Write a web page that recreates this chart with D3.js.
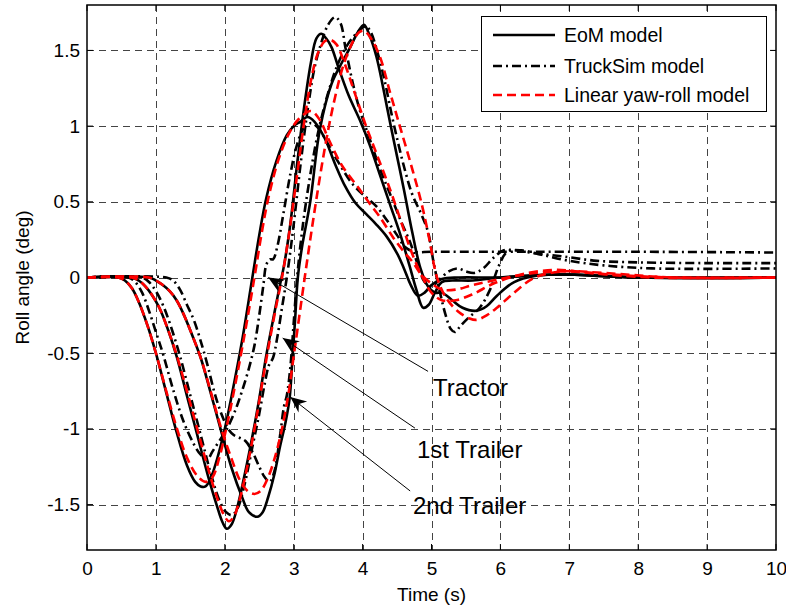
<!DOCTYPE html>
<html>
<head>
<meta charset="utf-8">
<script src="https://cdn.jsdelivr.net/npm/d3@7"></script>
<style>
  html, body { margin: 0; padding: 0; background: #fff; }
  svg { display: block; }
  text { font-family: "Liberation Sans", Arial, Helvetica, sans-serif; fill: #000; }
</style>
</head>
<body>
<svg id="chart" width="786" height="609"></svg>
<script>
// ---------------- DATA ----------------
const xTicks = [0, 1, 2, 3, 4, 5, 6, 7, 8, 9, 10];
const yTicks = [-1.5, -1, -0.5, 0, 0.5, 1, 1.5];
const xLabel = "Time (s)";
const yLabel = "Roll angle (deg)";
const legendLabels = ["EoM model", "TruckSim model", "Linear yaw-roll model"];

// [time (s), roll angle (deg)]
const tractorEoM = [[0,0],[0.45,0],[0.55,-0.02],[0.65,-0.07],[0.75,-0.16],[0.88,-0.32],[1.0,-0.5],[1.15,-0.76],[1.3,-1.02],[1.45,-1.24],[1.57,-1.35],[1.65,-1.38],[1.72,-1.38],[1.8,-1.32],[1.9,-1.18],[2.0,-1.0],[2.1,-0.78],[2.25,-0.42],[2.4,0.0],[2.5,0.28],[2.6,0.52],[2.75,0.77],[2.9,0.94],[3.0,1.0],[3.1,1.03],[3.2,1.06],[3.3,1.03],[3.45,0.92],[3.6,0.75],[3.75,0.6],[3.9,0.49],[4.05,0.42],[4.2,0.35],[4.35,0.27],[4.5,0.16],[4.6,0.06],[4.7,-0.05],[4.8,-0.12],[4.9,-0.1],[5.0,-0.05],[5.15,-0.01],[5.4,0.0],[6.0,0.0],[6.8,0.02],[8,0.0],[10,0.0]];
const firstTrailerEoM = [[0,0],[0.65,0],[0.75,-0.02],[0.85,-0.06],[0.95,-0.12],[1.05,-0.2],[1.18,-0.35],[1.3,-0.52],[1.45,-0.78],[1.6,-1.04],[1.75,-1.3],[1.88,-1.5],[1.97,-1.62],[2.03,-1.66],[2.1,-1.63],[2.18,-1.52],[2.28,-1.32],[2.4,-1.05],[2.5,-0.8],[2.6,-0.52],[2.7,-0.28],[2.8,-0.05],[2.86,0.08],[2.95,0.35],[3.05,0.75],[3.15,1.12],[3.25,1.42],[3.33,1.58],[3.4,1.61],[3.47,1.58],[3.55,1.52],[3.64,1.4],[3.8,1.2],[3.96,1.04],[4.1,0.88],[4.25,0.68],[4.4,0.48],[4.55,0.28],[4.68,0.08],[4.78,-0.08],[4.88,-0.2],[4.96,-0.18],[5.05,-0.1],[5.15,-0.03],[5.3,-0.02],[5.6,-0.02],[6.0,0.0],[6.8,0.02],[8,0],[10,0]];
const secondTrailerEoM = [[0,0],[0.9,0],[1.0,-0.02],[1.1,-0.05],[1.2,-0.09],[1.3,-0.15],[1.4,-0.24],[1.5,-0.35],[1.65,-0.53],[1.8,-0.77],[1.95,-1.02],[2.1,-1.26],[2.25,-1.45],[2.35,-1.55],[2.47,-1.58],[2.55,-1.55],[2.63,-1.45],[2.72,-1.3],[2.8,-1.12],[2.88,-0.96],[2.94,-0.8],[2.98,-0.55],[3.02,-0.28],[3.06,0.0],[3.12,0.2],[3.24,0.5],[3.38,0.98],[3.55,1.28],[3.7,1.42],[3.82,1.52],[3.93,1.62],[4.02,1.67],[4.1,1.6],[4.2,1.46],[4.3,1.25],[4.4,1.02],[4.5,0.8],[4.6,0.58],[4.72,0.3],[4.84,0.06],[4.95,-0.06],[5.05,-0.1],[5.15,-0.1],[5.3,-0.15],[5.45,-0.2],[5.65,-0.22],[5.8,-0.19],[5.95,-0.12],[6.2,-0.03],[6.5,0.01],[7.0,0.02],[8,0.0],[10,0]];

const tractorTruckSim = [[0,0],[0.6,0],[0.7,-0.03],[0.8,-0.1],[0.9,-0.22],[1.0,-0.36],[1.1,-0.5],[1.25,-0.74],[1.4,-0.95],[1.55,-1.1],[1.65,-1.17],[1.75,-1.2],[1.82,-1.15],[1.92,-1.08],[2.03,-1.0],[2.15,-0.88],[2.25,-0.75],[2.35,-0.6],[2.43,-0.45],[2.5,-0.25],[2.56,-0.05],[2.6,0.08],[2.65,0.12],[2.7,0.12],[2.76,0.2],[2.85,0.42],[2.95,0.68],[3.05,0.88],[3.15,0.99],[3.25,1.02],[3.35,0.99],[3.5,0.88],[3.65,0.76],[3.85,0.62],[4.05,0.53],[4.2,0.47],[4.35,0.38],[4.5,0.28],[4.62,0.2],[4.75,0.17],[5.0,0.17],[6,0.17],[8,0.17],[10,0.165]];
const firstTrailerTruckSim = [[0,0],[0.8,0],[0.9,-0.03],[1.0,-0.09],[1.1,-0.18],[1.2,-0.3],[1.35,-0.52],[1.5,-0.78],[1.65,-1.04],[1.8,-1.3],[1.92,-1.47],[2.02,-1.55],[2.1,-1.57],[2.18,-1.53],[2.28,-1.38],[2.4,-1.12],[2.5,-0.9],[2.58,-0.7],[2.64,-0.58],[2.7,-0.53],[2.76,-0.4],[2.83,-0.2],[2.9,0.0],[3.0,0.35],[3.1,0.75],[3.2,1.1],[3.3,1.38],[3.4,1.55],[3.5,1.67],[3.6,1.72],[3.68,1.68],[3.75,1.52],[3.85,1.3],[3.95,1.12],[4.1,0.92],[4.25,0.72],[4.4,0.55],[4.55,0.38],[4.7,0.22],[4.82,0.06],[4.9,-0.03],[5.0,-0.06],[5.1,-0.02],[5.25,0.04],[5.38,0.06],[5.5,0.04],[5.62,0.03],[5.75,0.06],[5.9,0.13],[6.05,0.18],[6.2,0.18],[6.5,0.16],[6.9,0.14],[7.4,0.11],[8,0.1],[9,0.095],[10,0.095]];
const secondTrailerTruckSim = [[0,0],[1.15,0],[1.25,-0.02],[1.35,-0.08],[1.45,-0.18],[1.55,-0.28],[1.65,-0.42],[1.75,-0.58],[1.85,-0.76],[1.95,-0.9],[2.05,-1.0],[2.13,-1.04],[2.22,-1.06],[2.3,-1.08],[2.4,-1.15],[2.5,-1.25],[2.58,-1.32],[2.65,-1.35],[2.72,-1.28],[2.8,-1.05],[2.86,-0.85],[2.9,-0.78],[2.95,-0.6],[3.0,-0.3],[3.05,0.0],[3.12,0.3],[3.22,0.62],[3.35,0.95],[3.5,1.22],[3.65,1.42],[3.8,1.55],[3.95,1.63],[4.05,1.66],[4.12,1.62],[4.22,1.48],[4.32,1.3],[4.42,1.08],[4.52,0.88],[4.62,0.7],[4.72,0.55],[4.85,0.42],[4.95,0.3],[5.03,0.1],[5.1,-0.05],[5.2,-0.24],[5.28,-0.34],[5.34,-0.36],[5.42,-0.32],[5.55,-0.26],[5.7,-0.2],[5.85,-0.08],[5.98,0.08],[6.1,0.17],[6.3,0.18],[6.6,0.15],[7.0,0.11],[7.5,0.08],[8.2,0.06],[10,0.06]];

const tractorLinear = [[0,0],[0.45,0],[0.55,-0.02],[0.65,-0.07],[0.75,-0.16],[0.88,-0.32],[1.0,-0.5],[1.15,-0.75],[1.3,-0.99],[1.45,-1.19],[1.6,-1.31],[1.72,-1.35],[1.82,-1.32],[1.92,-1.19],[2.02,-1.0],[2.12,-0.78],[2.27,-0.42],[2.43,0.0],[2.53,0.28],[2.63,0.52],[2.78,0.78],[2.93,0.95],[3.08,1.05],[3.25,1.1],[3.38,1.04],[3.5,0.92],[3.7,0.74],[3.96,0.58],[4.1,0.49],[4.25,0.40],[4.45,0.26],[4.6,0.17],[4.73,0.1],[4.85,0.02],[5.0,-0.04],[5.15,-0.08],[5.35,-0.08],[5.6,-0.05],[6.0,-0.01],[6.5,0.03],[7.0,0.04],[7.6,0.02],[8.5,0.0],[10,0.0]];
const firstTrailerLinear = [[0,0],[0.65,0],[0.75,-0.02],[0.85,-0.06],[0.95,-0.12],[1.05,-0.2],[1.18,-0.35],[1.3,-0.51],[1.45,-0.75],[1.6,-1.0],[1.75,-1.25],[1.9,-1.47],[2.0,-1.58],[2.06,-1.61],[2.13,-1.58],[2.22,-1.46],[2.33,-1.24],[2.45,-0.95],[2.55,-0.68],[2.65,-0.42],[2.75,-0.18],[2.83,0.0],[2.93,0.28],[3.05,0.68],[3.15,1.02],[3.25,1.3],[3.35,1.48],[3.45,1.56],[3.53,1.57],[3.62,1.54],[3.75,1.4],[3.9,1.2],[4.05,1.0],[4.2,0.82],[4.4,0.58],[4.55,0.38],[4.7,0.18],[4.85,0.02],[5.0,-0.1],[5.15,-0.15],[5.35,-0.15],[5.6,-0.11],[5.9,-0.04],[6.3,0.02],[6.8,0.05],[7.3,0.03],[8.2,0.0],[10,0]];
const secondTrailerLinear = [[0,0],[0.9,0],[1.0,-0.02],[1.1,-0.05],[1.2,-0.09],[1.3,-0.15],[1.4,-0.24],[1.5,-0.35],[1.65,-0.53],[1.8,-0.76],[1.95,-1.0],[2.1,-1.2],[2.22,-1.34],[2.33,-1.41],[2.43,-1.43],[2.52,-1.41],[2.62,-1.33],[2.72,-1.2],[2.82,-1.02],[2.92,-0.78],[3.0,-0.52],[3.08,-0.26],[3.16,0.0],[3.24,0.25],[3.33,0.52],[3.45,0.85],[3.58,1.15],[3.72,1.4],[3.85,1.55],[3.95,1.62],[4.02,1.63],[4.12,1.58],[4.25,1.46],[4.4,1.22],[4.54,1.0],[4.7,0.75],[4.85,0.5],[4.97,0.25],[5.08,0.0],[5.22,-0.14],[5.4,-0.23],[5.55,-0.27],[5.65,-0.28],[5.8,-0.25],[5.95,-0.2],[6.2,-0.1],[6.5,0.0],[6.9,0.04],[7.5,0.03],[8.5,0.0],[10,0]];

// annotations: label, arrow tip [t, deg], arrow tail [t, deg], text anchor [t, deg]
const annotLabels = ["Tractor", "1st Trailer", "2nd Trailer"];
const annotTips   = [[2.63, 0.0], [2.84, -0.40], [2.95, -0.79]];
const annotTails  = [[4.95, -0.62], [4.76, -0.995], [4.69, -1.41]];
const annotText   = [[5.02, -0.78], [4.79, -1.19], [4.73, -1.56]];

// ---------------- CHART ----------------
const W = 786, H = 609;
const m = {left: 87, right: 10, top: 5, bottom: 59};
const svg = d3.select("#chart");

const x = d3.scaleLinear().domain([0, 10]).range([m.left, W - m.right]);
const y = d3.scaleLinear().domain([-1.8, 1.8]).range([H - m.bottom, m.top]);

// plot background
svg.append("rect").attr("x", x(0)).attr("y", y(1.8))
  .attr("width", x(10) - x(0)).attr("height", y(-1.8) - y(1.8)).attr("fill", "#fff");

// grid
const grid = svg.append("g").attr("stroke", "#444").attr("stroke-width", 1).attr("stroke-dasharray", "7,5");
grid.selectAll("line.gx").data(xTicks.filter(d => d > 0 && d < 10)).join("line")
  .attr("x1", d => Math.round(x(d)) + 0.5).attr("x2", d => Math.round(x(d)) + 0.5)
  .attr("y1", y(1.8)).attr("y2", y(-1.8));
grid.selectAll("line.gy").data(yTicks).join("line")
  .attr("y1", d => Math.round(y(d)) + 0.5).attr("y2", d => Math.round(y(d)) + 0.5)
  .attr("x1", x(0)).attr("x2", x(10));

// axes
const xAxis = d3.axisBottom(x).tickValues(xTicks).tickSize(0).tickPadding(12).tickFormat(d3.format("d"));
const yAxis = d3.axisLeft(y).tickValues(yTicks).tickSize(0).tickPadding(7).tickFormat(d => String(d));
const gx = svg.append("g").attr("transform", `translate(0,${y(-1.8)})`).call(xAxis);
const gy = svg.append("g").attr("transform", `translate(${x(0)},0)`).call(yAxis);
[gx, gy].forEach(g => {
  g.select(".domain").remove();
  g.selectAll("text").style("font-size", "19px").attr("fill", "#000");
});

// inward ticks
const tickLen = 6;
const tk = svg.append("g").attr("stroke", "#000").attr("stroke-width", 1);
xTicks.forEach(d => {
  tk.append("line").attr("x1", x(d)).attr("x2", x(d)).attr("y1", y(-1.8)).attr("y2", y(-1.8) - tickLen);
  tk.append("line").attr("x1", x(d)).attr("x2", x(d)).attr("y1", y(1.8)).attr("y2", y(1.8) + tickLen);
});
yTicks.forEach(d => {
  tk.append("line").attr("y1", y(d)).attr("y2", y(d)).attr("x1", x(0)).attr("x2", x(0) + tickLen);
  tk.append("line").attr("y1", y(d)).attr("y2", y(d)).attr("x1", x(10)).attr("x2", x(10) - tickLen);
});

// clip
svg.append("clipPath").attr("id", "clip").append("rect")
  .attr("x", x(0)).attr("y", y(1.8)).attr("width", x(10) - x(0)).attr("height", y(-1.8) - y(1.8));

const line = d3.line().x(d => x(d[0])).y(d => y(d[1])).curve(d3.curveCatmullRom.alpha(0.5));

const styles = {
  eom:   {stroke: "#000", dash: null},
  truck: {stroke: "#000", dash: "9,4,2,4"},
  lin:   {stroke: "#ff0000", dash: "9,5"}
};
const series = [
  {data: tractorEoM, s: styles.eom}, {data: firstTrailerEoM, s: styles.eom}, {data: secondTrailerEoM, s: styles.eom},
  {data: tractorTruckSim, s: styles.truck}, {data: firstTrailerTruckSim, s: styles.truck}, {data: secondTrailerTruckSim, s: styles.truck},
  {data: tractorLinear, s: styles.lin}, {data: firstTrailerLinear, s: styles.lin}, {data: secondTrailerLinear, s: styles.lin}
];
const plot = svg.append("g").attr("clip-path", "url(#clip)");
series.forEach(sr => {
  plot.append("path").attr("d", line(sr.data)).attr("fill", "none")
    .attr("stroke", sr.s.stroke).attr("stroke-width", 2.6)
    .attr("stroke-dasharray", sr.s.dash).attr("stroke-linejoin", "round");
});

// annotations
const ann = svg.append("g");
annotLabels.forEach((lab, i) => {
  const [tx, ty] = [x(annotTips[i][0]), y(annotTips[i][1])];
  const [sx, sy] = [x(annotTails[i][0]), y(annotTails[i][1])];
  ann.append("line").attr("x1", sx).attr("y1", sy).attr("x2", tx).attr("y2", ty)
    .attr("stroke", "#000").attr("stroke-width", 1);
  const ang = Math.atan2(ty - sy, tx - sx);
  const L = 16, Wd = 7, back = 11;
  const ux = Math.cos(ang), uy = Math.sin(ang);
  const px = -uy, py = ux;
  const p1 = [tx - ux * L + px * Wd, ty - uy * L + py * Wd];
  const p2 = [tx - ux * back, ty - uy * back];
  const p3 = [tx - ux * L - px * Wd, ty - uy * L - py * Wd];
  ann.append("path").attr("d", `M${tx},${ty}L${p1[0]},${p1[1]}L${p2[0]},${p2[1]}L${p3[0]},${p3[1]}Z`).attr("fill", "#000");
  ann.append("text").attr("x", x(annotText[i][0])).attr("y", y(annotText[i][1]))
    .style("font-size", "24px").text(lab);
});

// axes box
svg.append("rect").attr("x", x(0)).attr("y", y(1.8))
  .attr("width", x(10) - x(0)).attr("height", y(-1.8) - y(1.8))
  .attr("fill", "none").attr("stroke", "#000").attr("stroke-width", 1.5);

// axis labels
svg.append("text").attr("x", (x(0) + x(10)) / 2).attr("y", 601).attr("text-anchor", "middle")
  .style("font-size", "19px").text(xLabel);
svg.append("text").attr("transform", `translate(29,${y(0)}) rotate(-90)`).attr("text-anchor", "middle")
  .style("font-size", "19px").text(yLabel);

// legend
const lg = svg.append("g");
lg.append("rect").attr("x", 481.5).attr("y", 16.5).attr("width", 285).attr("height", 95)
  .attr("fill", "#fff").attr("stroke", "#000").attr("stroke-width", 1);
const legStyles = [styles.eom, styles.truck, styles.lin];
const legY = [35, 66, 95];
legendLabels.forEach((lab, i) => {
  lg.append("line").attr("x1", 493).attr("x2", 555).attr("y1", legY[i]).attr("y2", legY[i])
    .attr("stroke", legStyles[i].stroke).attr("stroke-width", 2.6).attr("stroke-dasharray", legStyles[i].dash);
  lg.append("text").attr("x", 564).attr("y", legY[i]).attr("dy", "0.35em")
    .style("font-size", "19.5px").text(lab);
});
</script>
</body>
</html>
